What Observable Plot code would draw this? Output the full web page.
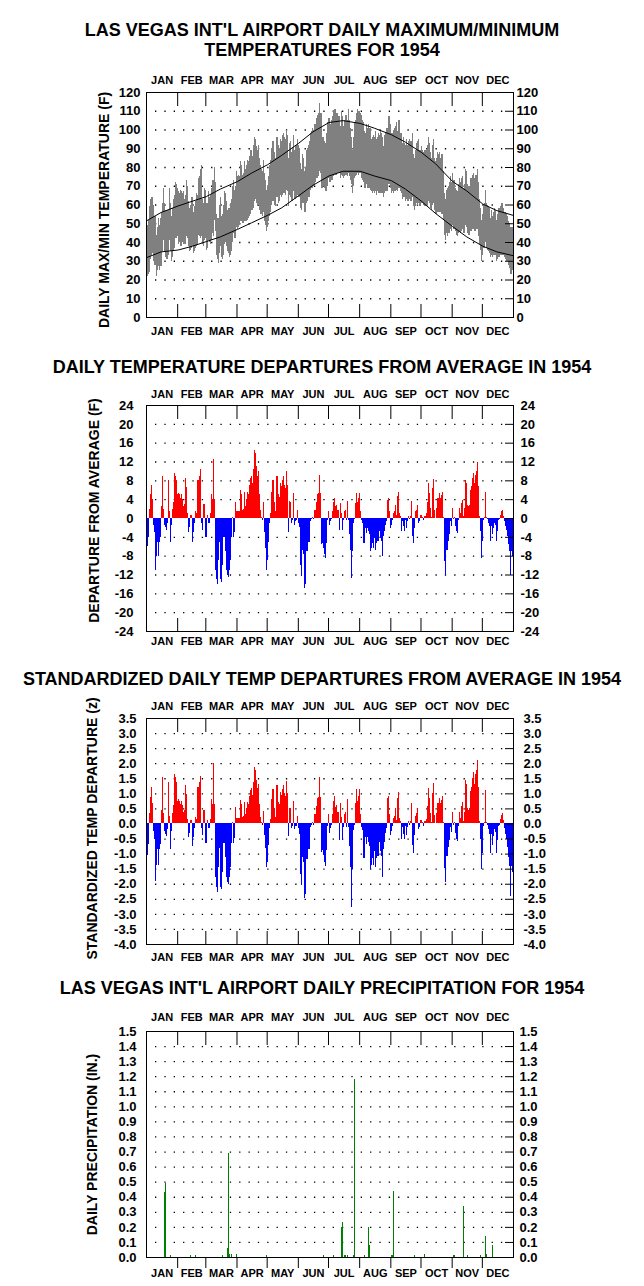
<!DOCTYPE html>
<html><head><meta charset="utf-8">
<script src="https://cdn.jsdelivr.net/npm/d3@7"></script>
<script src="https://cdn.jsdelivr.net/npm/@observablehq/plot@0.6"></script>
<style>
body{margin:0;background:#fff;}
#page{position:relative;width:644px;height:1286px;overflow:hidden;font-family:"Liberation Sans",Arial,sans-serif;color:#000;background:#fff;}
.title{position:absolute;left:0;width:644px;text-align:center;font-weight:bold;font-size:18px;line-height:20px;white-space:nowrap;}
.panel{position:absolute;left:0;width:644px;}
</style></head><body><div id="page"></div>
<script>
// ---------- categories / tick labels ----------
const monthNames = ["JAN","FEB","MAR","APR","MAY","JUN","JUL","AUG","SEP","OCT","NOV","DEC"];
const monthLengths = [31,28,31,30,31,30,31,31,30,31,30,31];
const tempTicks = [0,10,20,30,40,50,60,70,80,90,100,110,120];
const depTicks = [24,20,16,12,8,4,0,-4,-8,-12,-16,-20,-24];
const zTicks = [3.5,3.0,2.5,2.0,1.5,1.0,0.5,0.0,-0.5,-1.0,-1.5,-2.0,-2.5,-3.0,-3.5,-4.0];
const precipTicks = [0.0,0.1,0.2,0.3,0.4,0.5,0.6,0.7,0.8,0.9,1.0,1.1,1.2,1.3,1.4,1.5];

// ---------- daily maximum temperature (F), one list per month ----------
const dailyMax = [
 [46,49,52,59,63,64,60,54,54,44,48,53,49,53,56,61,69,61,57,57,57,57,69,61,54,58,63,65,72,71,69],
 [67,66,68,67,66,67,63,65,73,70,62,58,60,64,64,56,59,62,66,65,74,75,79,81,63,61,69,68],
 [61,61,67,64,65,69,73,73,80,72,55,53,53,60,64,54,55,60,67,66,62,57,58,58,61,63,70,73,68,70,78],
 [75,76,75,83,81,76,77,83,79,81,84,83,86,89,89,86,92,96,95,91,89,92,85,81,79,78,84,77,73,68],
 [70,75,81,84,90,94,94,88,85,96,96,92,90,95,94,97,98,96,95,100,97,85,93,94,88,90,97,89,91,92,95],
 [92,90,82,79,87,85,78,80,89,90,92,94,98,99,101,100,103,103,106,108,109,114,109,95,96,94,93,93,98,104],
 [106,103,103,105,107,110,111,108,109,107,107,102,110,107,102,105,108,108,105,111,105,101,96,89,96,104,105,109,111,110,110],
 [109,108,105,104,99,98,103,101,103,101,101,95,96,97,96,99,95,96,98,97,100,98,96,91,97,98,101,101,107,107,103],
 [98,98,100,101,102,104,99,105,105,98,98,93,96,93,92,95,92,94,95,94,94,98,87,85,89,93,94,95,89,89],
 [91,89,88,89,89,89,92,96,93,88,85,92,95,85,83,85,88,87,88,85,87,87,78,66,63,68,69,70,72,75,72],
 [77,73,73,69,68,67,71,74,72,74,75,69,71,79,78,71,70,70,74,74,76,77,74,76,76,79,72,63,58,52],
 [55,60,61,68,61,60,59,58,53,57,54,56,58,57,52,55,58,58,59,61,61,58,56,55,54,51,50,48,41,48,47]
];
// ---------- daily minimum temperature (F) ----------
const dailyMin = [
 [22,23,24,31,33,36,34,30,28,22,25,27,25,27,27,35,41,35,32,31,31,33,41,35,30,32,35,37,42,42,43],
 [39,40,38,38,40,39,39,39,43,42,38,35,36,37,38,34,35,37,38,39,44,43,42,43,39,38,41,42],
 [36,37,41,40,39,41,45,43,52,46,33,31,29,34,38,32,31,33,39,40,38,35,34,32,33,35,40,45,42,42,48],
 [47,48,49,51,51,50,50,51,51,51,52,53,54,55,57,57,58,62,63,61,59,60,57,55,55,54,56,51,49,46],
 [48,51,54,56,60,62,62,60,59,64,64,61,62,65,64,65,66,66,65,68,67,59,65,64,62,62,67,63,63,64,65],
 [64,64,58,57,61,61,56,56,61,62,64,64,68,69,69,70,71,72,74,74,75,78,77,69,70,70,69,67,70,74],
 [74,72,73,73,75,76,77,76,77,77,77,74,76,75,74,75,76,76,75,77,75,73,71,66,70,74,75,76,77,76,77],
 [77,74,73,72,69,69,71,69,69,69,68,67,66,67,66,67,65,67,66,66,66,66,66,64,66,67,67,67,71,71,69],
 [66,67,66,67,67,68,67,69,69,67,66,63,64,64,62,63,62,62,63,62,62,64,59,57,59,61,60,61,59,59],
 [61,61,60,59,59,59,60,62,61,58,57,60,61,57,55,55,56,56,56,56,55,55,52,44,41,45,43,45,45,47,46],
 [49,47,47,46,44,43,45,46,45,46,47,45,45,49,48,45,44,44,46,46,47,47,46,46,47,47,43,39,36,30],
 [33,37,37,40,37,36,35,34,32,33,32,33,33,33,30,31,32,32,33,33,33,33,32,31,30,30,28,26,23,26,25]
];
// ---------- normal (average) max / min temperature ----------
const normalDays = [0,14,31,45,59,73,90,104,120,134,151,165,181,195,212,226,243,257,273,287,304,318,334,348,364];
const normalMax = [51.7,56,59.5,62,64.5,68.5,72.5,77,81.5,86.5,93,99,104,105,103.5,101,97.5,93.5,88,82,72.5,67.5,60.5,57,54.5];
const normalMin = [32,35,36,38,40.5,43,47,50.5,54.5,58.5,65,70.5,75.5,78,78,75.5,73,68.5,62,55.5,48.5,43,38,35,33];

// ---------- daily mean temperature departure from average (F) ----------
const departure = [
 [-8,-6,-4,2,5,7,4,-1.5,-3,-11,-8,-5,-8,-5,-4,2.5,9,2,-1.5,-2,-2.5,-1,8,1.5,-5,-1.5,2,3.5,9.5,9,8],
 [5,5.3,5,4.2,5,4,2.5,3,8.5,6.5,1,-3,-2,0.7,0.7,-5,-3,-1,1.5,1,8,8,9,10.5,-1,-2.5,3,3],
 [-4,-4,0.7,-1,-1,1,5,4,12.5,4,-11,-13,-14,-9,-5,-13,-13.5,-10,-4,-4,-7,-11,-12,-12.5,-11,-9,-4,0.3,-4,-3,3.3],
 [1.5,1.5,1.5,6,5,1.7,2,5.6,2.5,4,5.6,5,7,8.5,9,7.4,10.5,14.4,13.7,11,9,10,5,1.7,0.3,-0.5,3.3,-3,-6.3,-11],
 [-9,-5,-1,1,5.6,8,8,3.5,1.4,9,9,5,4.5,7.4,6.7,8,9,7,6.3,9.9,7,-3,3.7,3.5,-1,-0.5,5.3,-1.4,-0.7,-0.5,1.8],
 [-1,-2,-10,-12.3,-6.7,-7.7,-14.8,-14,-7,-7,-5,-5,-0.7,-0.3,0.2,-0.3,1.8,1.8,3.5,5,5.3,9.2,5.3,-5.6,-5.3,-6.3,-7.7,-8.5,-5.3,-0.5],
 [1.5,-1.4,-0.7,-0.3,1.4,3.5,4.2,2.5,2.8,1.8,1.8,-2.5,3.2,1,-2.5,-0.5,1.4,1.8,-0.5,3.7,-0.5,-3.5,-6.7,-12.7,-7,-1,-0.3,3.2,5.3,3.5,4.2],
 [5.3,1.4,-0.5,-1,-5.3,-5.3,-2.1,-3.2,-2.1,-2.8,-3.5,-7,-6.3,-5.3,-6.3,-4.2,-6.7,-5.3,-4.9,-4.9,-2.8,-4.2,-4.9,-8.1,-3.9,-2.8,-1.4,-0.7,3.9,4.2,1.4],
 [-2.1,-1.4,-0.5,1,1.4,2.8,0.7,4.6,5.6,1,0.5,-2.8,-0.7,-1.8,-2.8,-0.5,-2.1,-0.7,0.5,-0.3,0.5,3.7,-3.9,-5.3,-2.1,1.4,1.8,2.8,-1,-0.7],
 [0.7,0.3,-0.5,0.5,0.5,1,3.5,7.4,5.3,2.1,0.3,6.3,8.3,1.8,0,2.1,4.2,4.2,5.3,4.2,4.9,5.6,0.3,-9.2,-12,-6.7,-6.7,-4.9,-3.5,-0.7,-1.8],
 [2.1,-0.3,0.3,-1.8,-2.8,-3.2,-0.5,2.1,1,3.2,3.9,0.5,2.1,8.1,7.4,2.8,2.5,2.8,6,6.7,8.5,9.5,7.4,9.2,9.9,11.8,6.7,0.5,-2.8,-8.5],
 [-4.9,-0.5,0.3,5.6,0.3,-0.2,-1,-1.8,-4.9,-1.8,-3.5,-2.1,-1,-1.4,-4.9,-2.8,-0.5,-0.3,0.7,1.4,1.8,0.5,-0.7,-1.8,-2.5,-3.9,-5.6,-7,-12,-7,-8]
];
// standard deviation of daily mean temperature used for the z-scores, by month (F)
const stdDevByMonth = [5.8,6.6,6.2,7.7,7.0,6.0,4.6,4.6,5.4,6.2,5.6,5.0];

// ---------- daily precipitation (in.) on wet days ----------
const precipDays = [17,18,23,43,48,75,80,81,82,84,89,119,176,185,193,194,196,197,199,205,206,216,220,221,243,244,245,266,276,305,306,315,319,332,337,338,344];
const precipInches = [0.43,0.49,0.01,0.01,0.01,0.01,0.06,0.69,0.02,0.02,0.02,0.01,0.01,0.01,0.2,0.23,0.01,0.01,0.01,0.01,1.18,0.01,0.2,0.08,0.01,0.01,0.44,0.01,0.02,0.01,0.01,0.34,0.01,0.01,0.14,0.02,0.08];

// ---------- derived tables ----------
const monthStarts = monthLengths.map((_, i) => d3.sum(monthLengths.slice(0, i)));
const monthBoundaries = monthStarts.slice(1);
const monthMids = monthStarts.map((s, i) => s + monthLengths[i] / 2);
const monthLabel = v => monthNames[monthMids.indexOf(v)] ?? "";

const days = [];
monthLengths.forEach((len, m) => {
  for (let i = 0; i < len; i++) {
    const dep = departure[m][i];
    days.push({
      day: monthStarts[m] + i,
      max: dailyMax[m][i],
      min: dailyMin[m][i],
      dep,
      z: dep / stdDevByMonth[m]
    });
  }
});
const normals = normalDays.map((d, i) => ({day: d, max: normalMax[i], min: normalMin[i]}));
const precip = precipDays.map((d, i) => ({day: d, p: precipInches[i]}));

// ---------- layout ----------
const page = document.getElementById("page");
function addTitle(lines, top) {
  const el = document.createElement("div");
  el.className = "title";
  el.style.top = top + "px";
  el.innerHTML = lines.join("<br>");
  page.appendChild(el);
}
function addPanel(svg, top) {
  const el = document.createElement("div");
  el.className = "panel";
  el.style.top = top + "px";
  el.appendChild(svg);
  page.appendChild(el);
}

function panel(o) {
  const inner = o.ticks.filter(t => t !== o.domain[0] && t !== o.domain[1]);
  const grid = inner.filter(t => t !== 0);
  return Plot.plot({
    width: 644, height: o.height,
    marginLeft: 146, marginRight: 131, marginTop: o.marginTop, marginBottom: o.marginBottom,
    x: {domain: [0, 365]},
    y: {domain: o.domain},
    style: {fontFamily: "'Liberation Sans', Arial, sans-serif", fontSize: "13px", fontWeight: "bold", background: "transparent", color: "black", overflow: "visible"},
    marks: [
      Plot.ruleY(grid, {stroke: "black", strokeWidth: 1.3, strokeDasharray: "1.3 8.05", insetLeft: 9, insetRight: 9}),
      ...o.marks,
      Plot.frame({stroke: "black", strokeWidth: 1}),
      Plot.axisX(monthBoundaries, {anchor: "top", tickSize: -13, tickFormat: () => "", label: null}),
      Plot.axisX(monthBoundaries, {anchor: "bottom", tickSize: o.bottomTickSize, tickFormat: () => "", label: null}),
      Plot.axisX(monthMids, {anchor: "top", tickSize: 0, tickPadding: o.topPad, tickFormat: monthLabel, fontSize: 11, fontWeight: "bold", label: null}),
      Plot.axisX(monthMids, {anchor: "bottom", tickSize: 0, tickPadding: o.bottomPad, tickFormat: monthLabel, fontSize: 11, fontWeight: "bold", label: null}),
      Plot.axisY(o.ticks, {anchor: "left", tickSize: 0, tickPadding: o.leftPad, tickFormat: o.fmt, fontSize: 13, fontWeight: "bold", label: null}),
      Plot.axisY(o.ticks, {anchor: "right", tickSize: 0, tickPadding: o.rightPad, tickFormat: o.fmt, fontSize: 13, fontWeight: "bold", textAnchor: "start", label: null}),
      Plot.axisY(inner, {anchor: "right", tickSize: -9, tickFormat: () => "", label: null}),
      Plot.text([o.ylabel], {text: d => d, frameAnchor: "left", dx: o.labelDx, dy: o.labelDy, rotate: -90, textAnchor: "middle", lineAnchor: "middle", fontSize: 14, fontWeight: "bold", fill: "black"})
    ]
  });
}

// Panel 1: daily max/min temperatures
addTitle(["LAS VEGAS INT'L AIRPORT DAILY MAXIMUM/MINIMUM", "TEMPERATURES FOR 1954"], 20);
addPanel(panel({
  height: 280, marginTop: 27, marginBottom: 28, domain: [0, 120], ticks: tempTicks, fmt: d => String(d),
  leftPad: 6, rightPad: 3, topPad: 9, bottomPad: 10, bottomTickSize: -13,
  ylabel: "DAILY MAX/MIN TEMPERATURE (F)", labelDx: -42, labelDy: 5,
  marks: [
    Plot.ruleX(days, {x: d => d.day + 0.5, y1: "min", y2: "max", stroke: "#808080", strokeWidth: 1.1, shapeRendering: "crispEdges"}),
    Plot.line(normals, {x: d => d.day + 0.5, y: "max", stroke: "black", strokeWidth: 1}),
    Plot.line(normals, {x: d => d.day + 0.5, y: "min", stroke: "black", strokeWidth: 1})
  ]
}), 65);

// Panel 2: departures
addTitle(["DAILY TEMPERATURE DEPARTURES FROM AVERAGE IN 1954"], 357);
addPanel(panel({
  height: 275, marginTop: 25, marginBottom: 24, domain: [-24, 24], ticks: depTicks, fmt: d => String(d),
  leftPad: 13, rightPad: 7, topPad: 8, bottomPad: 6, bottomTickSize: -13,
  ylabel: "DEPARTURE FROM AVERAGE (F)", labelDx: -52, labelDy: -8,
  marks: [
    Plot.rect(days.filter(d => d.dep >= 0), {x1: d => d.day, x2: d => d.day + 1, y1: () => 0, y2: "dep", fill: "#ff0000", shapeRendering: "crispEdges"}),
    Plot.rect(days.filter(d => d.dep < 0), {x1: d => d.day, x2: d => d.day + 1, y1: () => 0, y2: "dep", fill: "#0000ff", shapeRendering: "crispEdges"})
  ]
}), 380);

// Panel 3: standardized departures
addTitle(["STANDARDIZED DAILY TEMP DEPARTURES FROM AVERAGE IN 1954"], 669);
addPanel(panel({
  height: 276, marginTop: 26, marginBottom: 24, domain: [-4, 3.5], ticks: zTicks, fmt: d => d.toFixed(1),
  leftPad: 10, rightPad: 10, topPad: 9, bottomPad: 9, bottomTickSize: -13,
  ylabel: "STANDARDIZED TEMP DEPARTURE (z)", labelDx: -54, labelDy: -3,
  marks: [
    Plot.rect(days.filter(d => d.z >= 0), {x1: d => d.day, x2: d => d.day + 1, y1: () => 0, y2: "z", fill: "#ff0000", shapeRendering: "crispEdges"}),
    Plot.rect(days.filter(d => d.z < 0), {x1: d => d.day, x2: d => d.day + 1, y1: () => 0, y2: "z", fill: "#0000ff", shapeRendering: "crispEdges"})
  ]
}), 692);

// Panel 4: precipitation
addTitle(["LAS VEGAS INT'L AIRPORT DAILY PRECIPITATION FOR 1954"], 978);
addPanel(panel({
  height: 281, marginTop: 26, marginBottom: 29, domain: [0, 1.5], ticks: precipTicks, fmt: d => d.toFixed(1),
  leftPad: 10, rightPad: 6, topPad: 11, bottomPad: 12, bottomTickSize: 11,
  ylabel: "DAILY PRECIPITATION (IN.)", labelDx: -54, labelDy: 0,
  marks: [
    Plot.ruleX(precip, {x: d => d.day + 0.5, y1: () => 0, y2: "p", stroke: "#008000", strokeWidth: 1, shapeRendering: "crispEdges"})
  ]
}), 1005);
</script></body></html>
